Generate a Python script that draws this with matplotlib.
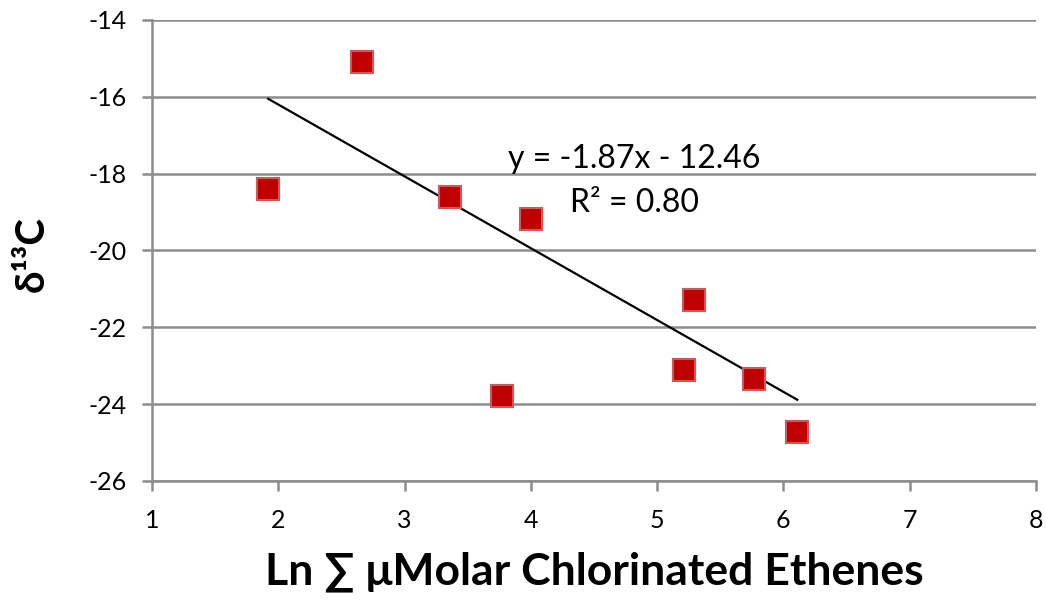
import matplotlib.pyplot as plt
import numpy as np

plt.rcParams['font.family'] = ['Lato', 'DejaVu Sans']
plt.rcParams['axes.unicode_minus'] = False

# Ln of total chlorinated ethenes (uM) and carbon isotope ratio
ln_ethenes = [1.92, 2.66, 3.36, 4.00, 3.77, 5.29, 5.21, 5.77, 6.11]
delta13c = [-18.39, -15.09, -18.60, -19.19, -23.80, -21.30, -23.12, -23.35, -24.73]

# linear trendline reported on the chart
slope = -1.87
intercept = -12.46
r_squared = 0.80

fig = plt.figure(figsize=(10.46, 6.06), dpi=100)
ax = fig.add_axes([0.1453, 0.2063, 0.8451, 0.7607])

ax.set_xlim(1, 8)
ax.set_ylim(-26, -14)
ax.set_xticks(np.arange(1, 9, 1))
ax.set_yticks(np.arange(-26, -13, 2))

ax.grid(axis='y', color='#8c8c8c', linewidth=1.8, zorder=0)
ax.set_axisbelow(True)
for side in ['top', 'right']:
    ax.spines[side].set_visible(False)
for side in ['left', 'bottom']:
    ax.spines[side].set_color('#8c8c8c')
    ax.spines[side].set_linewidth(1.8)
ax.tick_params(axis='both', colors='#8c8c8c', width=1.8, length=7,
               labelsize=18, labelcolor='black')
ax.tick_params(axis='x', pad=13)
ax.tick_params(axis='y', pad=11)

# trendline over the data range
xt = np.array([min(ln_ethenes), max(ln_ethenes)])
ax.plot(xt, slope * xt + intercept, color='black', linewidth=1.6, zorder=2)

ax.plot(ln_ethenes, delta13c, linestyle='none', marker='s', markersize=16,
        markerfacecolor='#c00000', markeredgecolor='#d05858',
        markeredgewidth=1.5, zorder=3)

ax.text(4.82, -17.84, f'y = {slope:.2f}x - {abs(intercept):.2f}', fontsize=23,
        ha='center', va='baseline')
ax.text(4.82, -19.01, f'R² = {r_squared:.2f}', fontsize=23,
        ha='center', va='baseline')

ax.set_xlabel('Ln ∑ μMolar Chlorinated Ethenes', fontsize=32,
              fontweight='bold')
ax.xaxis.label.set_va('center')
ax.xaxis.set_label_coords(0.5, -0.197)
ax.set_ylabel('δ¹³C', fontsize=29, fontweight='bold')
ax.yaxis.label.set_va('center')
ax.yaxis.set_label_coords(-0.136, 0.492)

fig.savefig('out.png', dpi=100)
